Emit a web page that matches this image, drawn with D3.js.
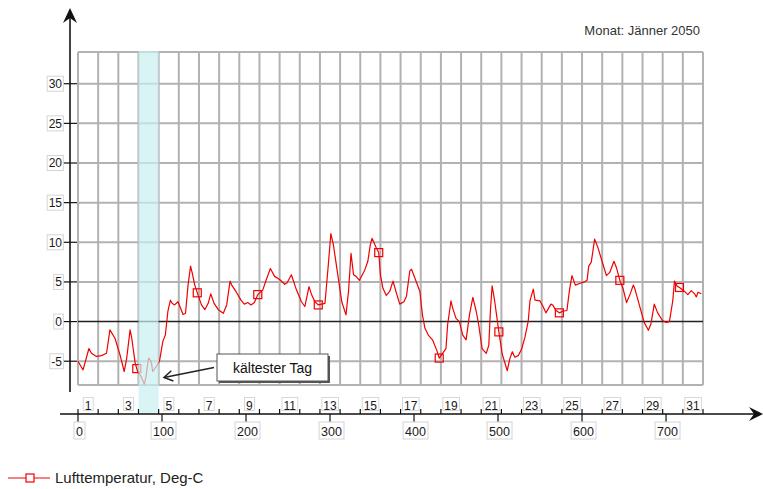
<!DOCTYPE html>
<html>
<head>
<meta charset="utf-8">
<script src="https://cdn.jsdelivr.net/npm/d3@7/dist/d3.min.js"></script>
<style>
  html, body { margin: 0; padding: 0; background: #fff; }
  svg { display: block; font-family: "Liberation Sans", Arial, sans-serif; }
</style>
</head>
<body>
<svg id="chart" width="763" height="489"></svg>
<script>
// Hourly air temperature readings for January 2050 (hour of month, deg C)
const hours = [0, 6, 13, 16, 22, 28, 34, 38, 44, 50, 55, 58, 62, 64, 68, 71, 75, 79, 81, 84, 87, 89, 93, 97,
  101, 104, 107, 110, 112, 115, 119, 122, 125, 128, 131, 134, 136, 139, 143, 147, 151, 155, 158, 162, 167, 173,
  177, 181, 183, 188, 194, 198, 202, 206, 210, 214, 220, 224, 229, 234, 240, 246, 249, 254, 260, 266, 270, 275,
  278, 282, 286, 294, 298, 301, 304, 308, 314, 319, 322, 325, 328, 331, 335, 341, 345, 348, 350, 355, 358, 360,
  363, 367, 371, 375, 379, 383, 388, 391, 395, 397, 401, 407, 410, 413, 417, 422, 427, 430, 434, 438, 440, 444,
  446, 450, 454, 458, 462, 466, 470, 474, 477, 481, 486, 489, 491, 493, 496, 501, 505, 511, 514, 517, 520, 524,
  528, 532, 536, 538, 542, 544, 550, 554, 557, 563, 565, 569, 573, 577, 582, 585, 588, 592, 597, 603, 606, 608,
  611, 615, 619, 625, 629, 633, 638, 641, 645, 649, 653, 657, 661, 663, 669, 674, 679, 682, 686, 690, 696, 700,
  704, 708, 710, 713, 716, 721, 726, 730, 734, 736, 738, 742];
const temps = [-5.0, -6.1, -3.4, -4.0, -4.4, -4.3, -4.0, -1.05, -2.1, -4.2, -6.3, -4.6, -1.05, -2.1, -5.2, -6.3,
  -6.9, -7.9, -6.9, -4.6, -5.0, -6.3, -5.7, -5.0,
  -2.5, -1.7, 1.3, 2.7, 2.3, 2.1, 2.5, 1.7, 0.9, 1.05, 4.6, 7.0, 6.1, 4.6, 3.3, 2.1, 1.5, 2.3, 3.5, 2.3, 1.5, 1.05,
  2.1, 5.1, 4.6, 3.8, 2.7, 2.2, 2.4, 2.1, 2.4, 3.4, 4.0, 5.25, 6.7, 5.7, 5.3, 4.7, 4.9, 5.9, 4.0, 2.5, 1.9, 4.4,
  3.4, 2.5, 2.1, 2.3, 7.2, 11.1, 9.7, 6.8, 2.5, 0.85, 3.8, 8.6, 5.9, 5.7, 5.2, 6.4, 7.6, 9.7, 10.5, 9.3, 8.7, 5.9,
  4.2, 3.3, 3.8, 5.1, 3.6, 2.2, 2.5, 3.2, 6.4, 6.6, 5.5, 3.8, 0.85, -0.85, -1.7, -2.3, -3.6, -4.6, -4.0, -3.4, -0.4, 2.6,
  1.7, 0.4, 0.0, -1.7, -2.3, 0.85, 3.05, 1.3, -0.4, -3.4, -4.0, -3.0, 1.5, 4.5, 2.6, -1.3, -4.1, -6.2, -4.7, -3.8, -4.5, -4.3,
  -3.5, -2.0, 0.1, 2.6, 4.1, 2.7, 2.6, 1.8, 1.1, 2.2, 2.1, 1.4, 1.1, 1.3, 1.4, 3.9, 5.8, 4.6, 4.8, 5.0, 5.2, 7.0,
  7.5, 10.4, 9.3, 7.2, 5.8, 6.2, 7.6, 6.8, 5.2, 4.1, 2.4, 3.4, 4.6, 4.1, 1.8, -0.1, -1.1, -0.3, 2.2, 1.1, 0.1, -0.1,
  0.0, 2.6, 5.1, 4.5, 4.3, 3.9, 3.4, 3.9, 3.5, 3.1, 3.7, 3.5];
const markerHours = [70, 142, 214, 286, 358, 430, 501, 573, 645, 716];

const yTicks = [-5, 0, 5, 10, 15, 20, 25, 30];
const xTicks = [0, 100, 200, 300, 400, 500, 600, 700];
const days = d3.range(1, 32);
const coldestDay = 4;

const title = "Monat: Jänner 2050";
const seriesName = "Lufttemperatur, Deg-C";
const noteText = "kältester Tag";

const svg = d3.select("#chart");
const x = d3.scaleLinear().domain([0, 744]).range([78, 703]);
const y = d3.scaleLinear().domain([-8, 34]).range([385, 52]);

const gridColor = "#b2b2b2";
const red = "#f00000";

// grid
const grid = svg.append("g");
grid.selectAll("line.v").data(d3.range(0, 745, 24)).join("line")
  .attr("x1", d => x(d)).attr("x2", d => x(d)).attr("y1", y(34)).attr("y2", y(-8))
  .attr("stroke", gridColor).attr("stroke-width", 2);
grid.selectAll("line.h").data([...yTicks.filter(v => v !== 0), -8, 34]).join("line")
  .attr("x1", x(0)).attr("x2", x(744)).attr("y1", d => y(d)).attr("y2", d => y(d))
  .attr("stroke", gridColor).attr("stroke-width", 2);
svg.append("line").attr("x1", x(0)).attr("x2", x(744)).attr("y1", y(0)).attr("y2", y(0))
  .attr("stroke", "#222").attr("stroke-width", 1.5);

// series
const pts = hours.map((h, i) => [h, temps[i]]);
const line = d3.line().x(d => x(d[0])).y(d => y(d[1]));
svg.append("path").datum(pts).attr("d", line)
  .attr("fill", "none").attr("stroke", red).attr("stroke-width", 1.2).attr("stroke-linejoin", "round");

function valueAt(h) {
  const i = d3.bisectLeft(hours, h);
  if (i <= 0) return temps[0];
  if (i >= hours.length) return temps[temps.length - 1];
  const t = (h - hours[i - 1]) / (hours[i] - hours[i - 1]);
  return temps[i - 1] + t * (temps[i] - temps[i - 1]);
}
svg.selectAll("rect.mk").data(markerHours).join("rect")
  .attr("x", d => x(d) - 4).attr("y", d => y(valueAt(d)) - 4)
  .attr("width", 8).attr("height", 8)
  .attr("fill", "none").attr("stroke", red).attr("stroke-width", 1.2);

// coldest day band
svg.append("rect")
  .attr("x", x((coldestDay - 1) * 24)).attr("width", x(coldestDay * 24) - x((coldestDay - 1) * 24))
  .attr("y", 51).attr("height", 362)
  .attr("fill", "#c8f0f0").attr("opacity", 0.7);

// y axis
svg.append("line").attr("x1", 70).attr("x2", 70).attr("y1", 14).attr("y2", 392)
  .attr("stroke", "#444").attr("stroke-width", 2);
svg.append("path").attr("d", "M70,8 L63,23 L70,18 L77,23 Z").attr("fill", "#111");
const yAx = svg.append("g");
yTicks.forEach(v => {
  const g = yAx.append("g");
  g.append("line").attr("x1", 63).attr("x2", 77).attr("y1", y(v)).attr("y2", y(v))
    .attr("stroke", "#111").attr("stroke-width", 1.2);
  const r = g.append("rect");
  const t = g.append("text").attr("x", 62).attr("y", y(v) + 4.3).attr("text-anchor", "end")
    .attr("font-size", 12).attr("fill", "#1a1a1a").text(v);
  const b = t.node().getBBox();
  r.attr("x", b.x - 1.5).attr("y", y(v) - 7.5).attr("width", b.width + 2.5).attr("height", 15)
    .attr("fill", "#fff").attr("stroke", "#d4d4d4").attr("stroke-width", 1);
});

// x axis
const axY = 414;
svg.append("line").attr("x1", 60).attr("x2", 756).attr("y1", axY).attr("y2", axY)
  .attr("stroke", "#111").attr("stroke-width", 1.5);
svg.append("path").attr("d", `M763,${axY} L749,${axY - 7} L754,${axY} L749,${axY + 7} Z`).attr("fill", "#111");
const xAx = svg.append("g");
d3.range(0, 32).forEach(k => {
  xAx.append("line").attr("x1", x(k * 24)).attr("x2", x(k * 24)).attr("y1", axY - 5).attr("y2", axY)
    .attr("stroke", "#111").attr("stroke-width", 1.2);
});
days.filter(d => d % 2 === 1).forEach(d => {
  const cx = x((d - 1) * 24 + 12);
  const r = xAx.append("rect");
  const t = xAx.append("text").attr("x", cx).attr("y", 409.5).attr("text-anchor", "middle")
    .attr("font-size", 12).attr("fill", "#1a1a1a").text(d);
  const b = t.node().getBBox();
  r.attr("x", b.x - 1.5).attr("y", 397.5).attr("width", b.width + 3).attr("height", 13)
    .attr("fill", "#fff").attr("stroke", "#d8d8d8").attr("stroke-width", 1);
});
xTicks.forEach(v => {
  xAx.append("line").attr("x1", x(v)).attr("x2", x(v)).attr("y1", axY).attr("y2", axY + 9)
    .attr("stroke", "#111").attr("stroke-width", 1.2);
  const r = xAx.append("rect");
  const t = xAx.append("text").attr("x", x(v) + 1.5).attr("y", 435.5).attr("text-anchor", "middle")
    .attr("font-size", 12.5).attr("fill", "#1a1a1a").text(v);
  const b = t.node().getBBox();
  r.attr("x", b.x - 2).attr("y", 422).attr("width", b.width + 4).attr("height", 17)
    .attr("fill", "#fff").attr("stroke", "#d4d4d4").attr("stroke-width", 1);
});

// title
svg.append("text").attr("x", 700).attr("y", 35).attr("text-anchor", "end")
  .attr("font-size", 13).attr("fill", "#333").text(title);

// annotation
svg.append("rect").attr("x", 219).attr("y", 356).attr("width", 111).attr("height", 27).attr("fill", "#555");
svg.append("rect").attr("x", 217).attr("y", 354).attr("width", 111).attr("height", 27)
  .attr("fill", "#fff").attr("stroke", "#555").attr("stroke-width", 1);
svg.append("text").attr("x", 233).attr("y", 372.5).attr("font-size", 14).attr("fill", "#111").text(noteText);
const ax0 = [214, 367.5], ax1 = [164, 377.5];
svg.append("line").attr("x1", ax0[0]).attr("y1", ax0[1]).attr("x2", ax1[0]).attr("y2", ax1[1])
  .attr("stroke", "#222").attr("stroke-width", 1.5);
{
  const ang = Math.atan2(ax0[1] - ax1[1], ax0[0] - ax1[0]);
  const L = 10, spread = 0.55;
  const p1 = [ax1[0] + L * Math.cos(ang - spread), ax1[1] + L * Math.sin(ang - spread)];
  const p2 = [ax1[0] + L * Math.cos(ang + spread), ax1[1] + L * Math.sin(ang + spread)];
  svg.append("path").attr("d", `M${p1} L${ax1} L${p2}`).attr("fill", "none")
    .attr("stroke", "#222").attr("stroke-width", 1.5);
}

// legend
svg.append("line").attr("x1", 8).attr("x2", 50).attr("y1", 478).attr("y2", 478)
  .attr("stroke", red).attr("stroke-width", 1.2);
svg.append("rect").attr("x", 26).attr("y", 474).attr("width", 8).attr("height", 8)
  .attr("fill", "#fff").attr("stroke", red).attr("stroke-width", 1.2);
svg.append("text").attr("x", 55).attr("y", 483).attr("font-size", 15).attr("fill", "#222").text(seriesName);
</script>
</body>
</html>
